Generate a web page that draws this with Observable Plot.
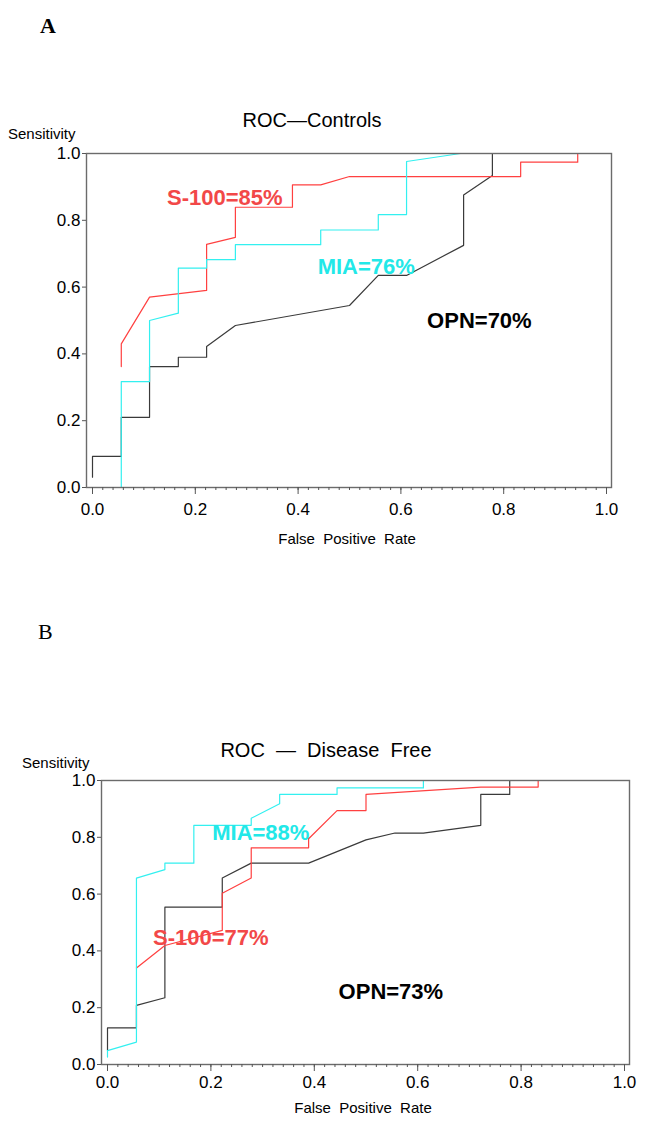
<!DOCTYPE html>
<html>
<head>
<meta charset="utf-8">
<script src="https://cdn.jsdelivr.net/npm/d3@7"></script>
<script src="https://cdn.jsdelivr.net/npm/@observablehq/plot@0.6"></script>
<style>
  html, body { margin: 0; padding: 0; background: #fff; }
  #page { position: relative; width: 645px; height: 1125px; overflow: hidden; background: #fff; font-family: "Liberation Sans", Arial, sans-serif; }
  .abs { position: absolute; white-space: pre; line-height: 1; color: #000; }
  .panel { position: absolute; left: 0; }
</style>
</head>
<body>
<div id="page"></div>
<script>
// ---------- data ----------
// Panel A: ROC - Controls  [false positive rate, sensitivity]
const A_OPN = [[0,0.031],[0,0.093],[0.056,0.093],[0.056,0.21],[0.111,0.21],[0.111,0.362],[0.167,0.362],[0.167,0.39],[0.222,0.39],[0.222,0.422],[0.278,0.485],[0.5,0.545],[0.556,0.635],[0.611,0.635],[0.722,0.725],[0.722,0.876],[0.778,0.934],[0.778,1.0]];
const A_S100 = [[0.056,0.362],[0.056,0.43],[0.111,0.57],[0.222,0.59],[0.222,0.728],[0.278,0.749],[0.278,0.839],[0.389,0.839],[0.389,0.906],[0.444,0.906],[0.5,0.931],[0.833,0.931],[0.833,0.974],[0.944,0.974],[0.944,1.0]];
const A_MIA = [[0.056,0],[0.056,0.317],[0.111,0.317],[0.111,0.5],[0.167,0.522],[0.167,0.657],[0.222,0.657],[0.222,0.682],[0.278,0.682],[0.278,0.727],[0.444,0.727],[0.444,0.771],[0.556,0.771],[0.556,0.817],[0.611,0.817],[0.611,0.976],[0.716,1.0]];
// Panel B: ROC - Disease Free
const B_OPN = [[0,0.049],[0,0.129],[0.056,0.129],[0.056,0.208],[0.111,0.235],[0.111,0.554],[0.222,0.554],[0.222,0.657],[0.278,0.709],[0.389,0.709],[0.5,0.791],[0.556,0.815],[0.611,0.815],[0.722,0.842],[0.722,0.951],[0.778,0.951],[0.778,1.0]];
const B_S100 = [[0.056,0.340],[0.111,0.419],[0.222,0.472],[0.222,0.603],[0.278,0.657],[0.278,0.763],[0.389,0.763],[0.389,0.795],[0.444,0.894],[0.5,0.894],[0.5,0.951],[0.722,0.977],[0.833,0.977],[0.833,1.0]];
const B_MIA = [[0,0.026],[0,0.049],[0.056,0.079],[0.056,0.656],[0.111,0.686],[0.111,0.709],[0.167,0.709],[0.167,0.842],[0.278,0.842],[0.278,0.867],[0.333,0.918],[0.333,0.951],[0.444,0.951],[0.444,0.974],[0.611,0.974],[0.611,1.0]];

// annotation labels [text, x, y, series]
const A_labels = [["S-100=85%",0.145,0.868,"S100"],["MIA=76%",0.438,0.659,"MIA"],["OPN=70%",0.651,0.5,"OPN"]];
const B_labels = [["MIA=88%",0.2025,0.817,"MIA"],["S-100=77%",0.088,0.444,"S100"],["OPN=73%",0.447,0.257,"OPN"]];

const yTicks = [0,0.2,0.4,0.6,0.8,1.0];
const xTicks = [0,0.2,0.4,0.6,0.8,1.0];
const xMinor = d3.range(0, 51).map(i => i / 50);

const lineColor = {OPN: "#3a3a3a", S100: "#ff4040", MIA: "#33f0f0"};
const textColor = {OPN: "#000000", S100: "#f24848", MIA: "#22e8e8"};

const fmt = d3.format(".1f");

function panel(cfg) {
  const series = [["OPN", cfg.opn], ["S100", cfg.s100], ["MIA", cfg.mia]];
  const marks = [];
  for (const [name, pts] of series) {
    marks.push(Plot.line(pts, {x: d => d[0], y: d => d[1], stroke: lineColor[name], strokeWidth: 1.2, curve: "linear"}));
  }
  marks.push(Plot.frame({stroke: "#6b6b6b", strokeWidth: 1.4}));
  marks.push(Plot.axisY({ticks: yTicks, tickFormat: fmt, tickSize: 4, tickPadding: 2, fontSize: 17, label: null, stroke: "#555"}));
  marks.push(Plot.axisX({ticks: xMinor, tickFormat: () => "", tickSize: 3, label: null, stroke: "#555"}));
  marks.push(Plot.axisX({ticks: xTicks, tickFormat: fmt, tickSize: 7, tickPadding: cfg.xPad, fontSize: 17, label: null, stroke: "#555"}));
  marks.push(Plot.text(cfg.labels, {x: d => d[1], y: d => d[2], text: d => d[0], fill: d => textColor[d[3]], textAnchor: "start", fontSize: 22, fontWeight: "bold"}));
  return Plot.plot({
    width: 645, height: cfg.height,
    marginLeft: cfg.ml, marginRight: cfg.mr, marginTop: cfg.mt, marginBottom: cfg.mb,
    x: {domain: cfg.xDomain},
    y: {domain: [0, 1]},
    style: {fontFamily: '"Liberation Sans", Arial, sans-serif', color: "#000", background: "#fff", overflow: "visible"},
    marks
  });
}

const page = document.getElementById("page");
function addText(txt, left, top, size, opts = {}) {
  const d = document.createElement("div");
  d.className = "abs";
  d.textContent = txt;
  d.style.left = left + "px";
  d.style.top = top + "px";
  d.style.fontSize = size + "px";
  if (opts.center) d.style.transform = "translateX(-50%)";
  if (opts.family) d.style.fontFamily = opts.family;
  if (opts.weight) d.style.fontWeight = opts.weight;
  page.appendChild(d);
}

const svgA = panel({opn: A_OPN, s100: A_S100, mia: A_MIA, labels: A_labels, height: 460, ml: 86, mr: 34, mt: 53, mb: 73, xDomain: [-6/514, 1 + 5/514], xPad: 8});
svgA.style.top = "100px"; svgA.classList.add("panel");
page.appendChild(svgA);

const svgB = panel({opn: B_OPN, s100: B_S100, mia: B_MIA, labels: B_labels, height: 385, ml: 101, mr: 16, mt: 40, mb: 61, xDomain: [-6/517, 1 + 5/517], xPad: 4});
svgB.style.top = "740px"; svgB.classList.add("panel");
page.appendChild(svgB);

// headings and axis titles
addText("A", 40, 15, 22, {family: '"Liberation Serif", "Times New Roman", serif', weight: "bold"});
addText("ROC\u2014Controls", 312, 110, 20, {center: true});
addText("Sensitivity", 8, 126, 15);
addText("False  Positive  Rate", 347, 531, 15, {center: true});

addText("B", 38, 621, 22, {family: '"Liberation Serif", "Times New Roman", serif'});
addText("ROC  \u2014  Disease  Free", 326, 740, 20, {center: true});
addText("Sensitivity", 22, 755, 15);
addText("False  Positive  Rate", 363, 1100, 15, {center: true});
</script>
</body>
</html>
